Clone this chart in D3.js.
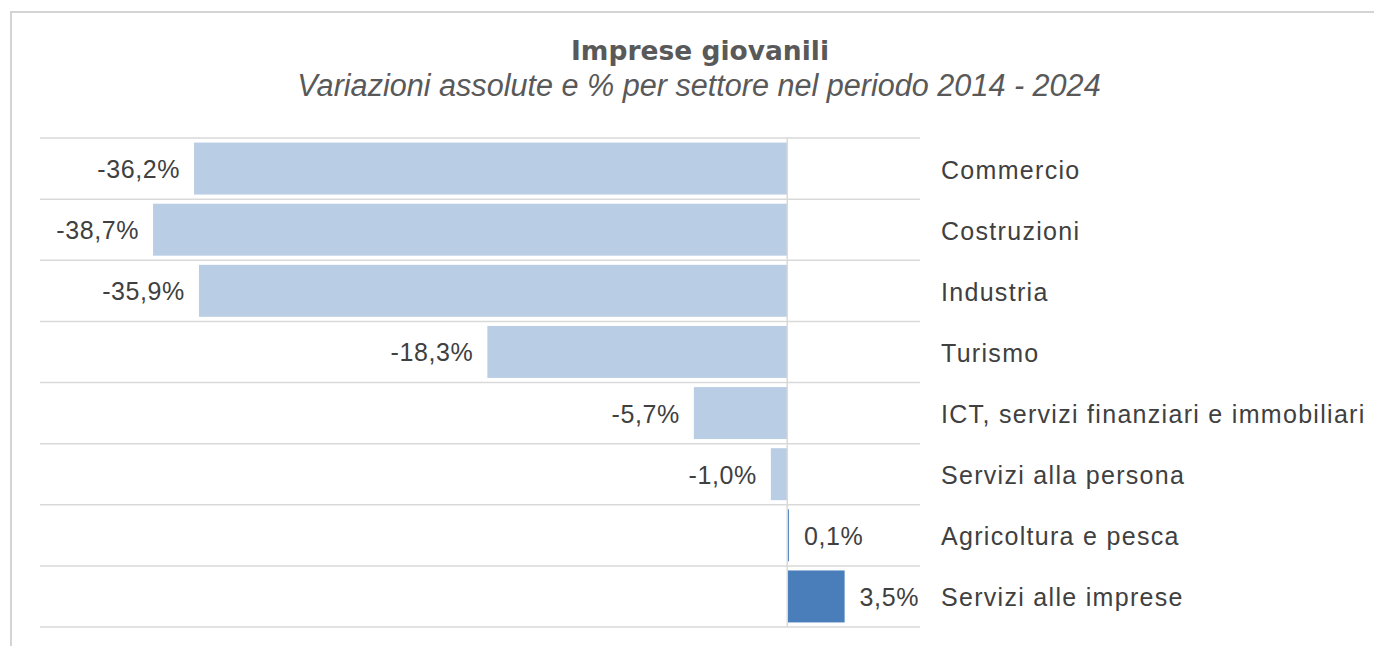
<!DOCTYPE html>
<html><head><meta charset="utf-8">
<script src="https://cdn.jsdelivr.net/npm/d3@7"></script>
<style>html,body{margin:0;padding:0;background:#fff;}svg{display:block;}</style>
</head><body>
<script>
const categories = ["Commercio","Costruzioni","Industria","Turismo","ICT, servizi finanziari e immobiliari","Servizi alla persona","Agricoltura e pesca","Servizi alle imprese"];
const values = [-36.2,-38.7,-35.9,-18.3,-5.7,-1.0,0.1,3.5];
const valueLabels = ["-36,2%","-38,7%","-35,9%","-18,3%","-5,7%","-1,0%","0,1%","3,5%"];
const title = "Imprese giovanili";
const subtitle = "Variazioni assolute e % per settore nel periodo 2014 - 2024";

const W = 1374, H = 646;
const svg = d3.select("body").append("svg").attr("width", W).attr("height", H);
svg.append("rect").attr("width", W).attr("height", H).attr("fill", "#fff");
// frame
svg.append("rect").attr("x", 11).attr("y", 12).attr("width", 1420).attr("height", 700)
  .attr("fill", "none").attr("stroke", "#d4d4d4").attr("stroke-width", 2);

const font = "'Liberation Sans', Arial, sans-serif";
const x = d3.scaleLinear().domain([-45.6, 8.1]).range([40, 920]);
const y = d3.scaleBand().domain(categories).range([138, 627]).paddingInner(0.15).paddingOuter(0.075);
const step = y.step();

// title
svg.append("text").attr("x", 700).attr("y", 60).attr("text-anchor", "middle")
  .attr("font-family", "'DejaVu Sans', Verdana, sans-serif").attr("font-weight", "bold").attr("font-size", 26.5)
  .attr("fill", "#595959").text(title);
svg.append("text").attr("x", 699).attr("y", 96).attr("text-anchor", "middle")
  .attr("font-family", font).attr("font-style", "italic").attr("font-size", 30.6)
  .attr("fill", "#595959").text(subtitle);

// gridlines at band boundaries
const bounds = categories.map(c => y(c) - y.paddingInner() * step / 2);
bounds.push(bounds[bounds.length - 1] + step);
svg.append("g").selectAll("line").data(bounds).join("line")
  .attr("x1", x.range()[0]).attr("x2", x.range()[1])
  .attr("y1", d => d).attr("y2", d => d)
  .attr("stroke", "#d9d9d9").attr("stroke-width", 1.5);

// bars
svg.append("g").selectAll("rect").data(values).join("rect")
  .attr("x", d => Math.min(x(0), x(d)))
  .attr("width", d => Math.max(1.5, Math.abs(x(d) - x(0))))
  .attr("y", (d, i) => y(categories[i]))
  .attr("height", y.bandwidth())
  .attr("fill", d => d >= 0 ? "#4a7ebb" : "#b9cde4");

// zero line
svg.append("line").attr("x1", x(0)).attr("x2", x(0))
  .attr("y1", bounds[0]).attr("y2", bounds[bounds.length - 1])
  .attr("stroke", "#d9d9d9").attr("stroke-width", 1.5);

// value labels
svg.append("g").selectAll("text").data(values).join("text")
  .attr("x", d => d < 0 ? x(d) - 14 : x(d) + 15)
  .attr("y", (d, i) => y(categories[i]) + y.bandwidth() / 2)
  .attr("dy", "0.38em")
  .attr("text-anchor", d => d < 0 ? "end" : "start")
  .attr("font-family", font).attr("font-size", 25).attr("letter-spacing", 0.6)
  .attr("fill", "#404040")
  .text((d, i) => valueLabels[i]);

// category labels
svg.append("g").selectAll("text").data(categories).join("text")
  .attr("x", 941)
  .attr("y", d => y(d) + y.bandwidth() / 2)
  .attr("dy", "0.4em")
  .attr("font-family", font).attr("font-size", 25).attr("letter-spacing", 1.3)
  .attr("fill", "#404040")
  .text(d => d);
</script>
</body></html>
